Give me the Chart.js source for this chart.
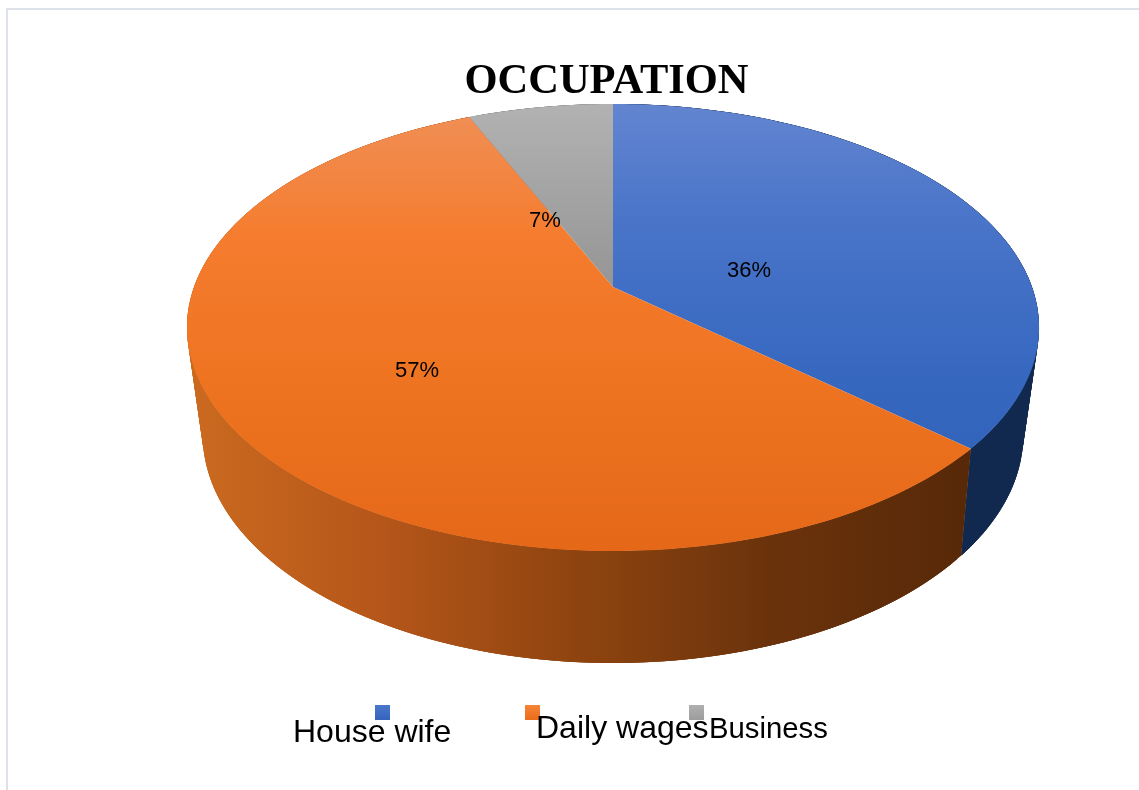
<!DOCTYPE html>
<html>
<head>
<meta charset="utf-8">
<style>
  html, body { margin: 0; background: #fff; overflow: hidden; }
  #frame { position: absolute; left: 6px; top: 8px; width: 1200px; height: 900px; border-left: 2px solid #dde1ea; border-top: 2px solid #dde1ea; }
  #occupationChart { position: absolute; left: 0; top: 0; }
</style>
<script src="https://cdn.jsdelivr.net/npm/chart.js@4"></script>
</head>
<body>
<div id="frame"></div>
<canvas id="occupationChart" width="1139" height="790"></canvas>
<script>
'use strict';

const occupations = ['House wife', 'Daily wages', 'Business'];
const shares = [36.45, 57, 6.55];
const chartTitle = 'OCCUPATION';

// the tilted disc, top face and bottom rim (perspective, so the hub sits off centre)
const topDisc = { cx: 613, hubY: 287, a: 419, b: 216.2, k: -0.1812 };
const rimDisc = { cx: 613, hubY: 389.4, a: 402, b: 218.9, k: -0.2 };

const faceStops = [
  [[0, '#6385d0'], [0.25, '#4a75c9'], [0.6, '#3768c0'], [1, '#2c5fb4']],
  [[0, '#f09058'], [0.3, '#f57c2e'], [0.65, '#ee7320'], [1, '#e46818']],
  [[0, '#b2b2b2'], [1, '#959595']]
];
const wallStops = [
  [[0, '#12294f'], [1, '#12294f']],
  [[0, '#cb6a1f'], [0.25, '#b5561a'], [0.5, '#8f440f'], [0.75, '#6b330c'], [1, '#582908']],
  [[0, '#777777'], [1, '#777777']]
];
const swatchColors = ['#3f6fc6', '#f07a2b', '#a8a8a8'];
const swatchStops = [
  [[0, '#4a78cc'], [1, '#3563bd']],
  [[0, '#f58538'], [1, '#ea6d1a']],
  [[0, '#b0b0b0'], [1, '#9c9c9c']]
];

const labelSpots = [[749, 271], [417, 371], [545, 221]];
const legendItems = [
  { box: [375, 705], text: [293, 742], size: 32 },
  { box: [525, 705], text: [536, 738], size: 32 },
  { box: [689, 705], text: [709, 738], size: 29.3 }
];

function project(disc, angle) {
  const u = Math.cos(angle), v = Math.sin(angle);
  const w = 1 + disc.k * v;
  return [disc.cx + disc.a * u / w, disc.hubY + disc.b * v / w];
}

function gradient(ctx, x0, y0, x1, y1, stops) {
  const g = ctx.createLinearGradient(x0, y0, x1, y1);
  stops.forEach(s => g.addColorStop(s[0], s[1]));
  return g;
}

function arcAngles(arc) {
  const steps = Math.max(8, Math.ceil((arc.endAngle - arc.startAngle) * 60));
  const list = [];
  for (let i = 0; i <= steps; i++) {
    list.push(arc.startAngle + (arc.endAngle - arc.startAngle) * i / steps);
  }
  return list;
}

const tiltedPie = {
  id: 'tiltedPie',
  beforeDatasetDraw(chart, args) {
    const ctx = chart.ctx;
    const arcs = chart.getDatasetMeta(args.index).data;
    ctx.save();

    // walls first as overlapping strips so no seams show, the top face hides the back
    arcs.forEach((arc, i) => {
      const angles = arcAngles(arc);
      ctx.fillStyle = gradient(ctx, 190, 0, 960, 0, wallStops[i]);
      for (let s = 0; s < angles.length - 1; s++) {
        const next = angles[Math.min(s + 3, angles.length - 1)];
        const a = project(topDisc, angles[s]), b = project(topDisc, next);
        const c = project(rimDisc, next), d = project(rimDisc, angles[s]);
        ctx.beginPath();
        ctx.moveTo(a[0], a[1]);
        ctx.lineTo(b[0], b[1]);
        ctx.lineTo(c[0], c[1]);
        ctx.lineTo(d[0], d[1]);
        ctx.closePath();
        ctx.fill();
      }
    });

    arcs.forEach((arc, i) => {
      ctx.beginPath();
      ctx.moveTo(topDisc.cx, topDisc.hubY);
      arcAngles(arc).forEach(a => { const p = project(topDisc, a); ctx.lineTo(p[0], p[1]); });
      ctx.closePath();
      ctx.fillStyle = gradient(ctx, 0, 104, 0, i === 2 ? 287 : 551, faceStops[i]);
      ctx.fill();
    });

    // value labels
    const total = shares.reduce((s, v) => s + v, 0);
    ctx.fillStyle = '#000';
    ctx.font = '22px "Liberation Sans"';
    ctx.textAlign = 'center';
    ctx.textBaseline = 'middle';
    shares.forEach((v, i) => {
      ctx.fillText(Math.round(v / total * 100) + '%', labelSpots[i][0], labelSpots[i][1]);
    });

    // legend, the boxes sit behind the names
    legendItems.forEach((item, i) => {
      ctx.fillStyle = gradient(ctx, 0, item.box[1], 0, item.box[1] + 15, swatchStops[i]);
      ctx.fillRect(item.box[0], item.box[1], 15, 15);
    });
    ctx.fillStyle = '#000';
    ctx.textAlign = 'left';
    ctx.textBaseline = 'alphabetic';
    legendItems.forEach((item, i) => {
      ctx.font = item.size + 'px "Liberation Sans"';
      ctx.fillText(chart.data.labels[i], item.text[0], item.text[1]);
    });

    ctx.restore();
    return false;
  }
};

const occupationChart = new Chart(document.getElementById('occupationChart').getContext('2d'), {
  type: 'pie',
  data: {
    labels: occupations,
    datasets: [{ data: shares, backgroundColor: swatchColors, borderWidth: 0 }]
  },
  options: {
    responsive: false,
    animation: false,
    layout: { padding: { left: 74 } },
    plugins: {
      legend: { display: false },
      tooltip: { enabled: false },
      title: {
        display: true,
        text: chartTitle,
        color: '#000',
        font: { family: '"Liberation Serif"', size: 42.5, weight: 'bold' },
        padding: { top: 57, bottom: 10 }
      }
    }
  },
  plugins: [tiltedPie]
});
</script>
</body>
</html>
